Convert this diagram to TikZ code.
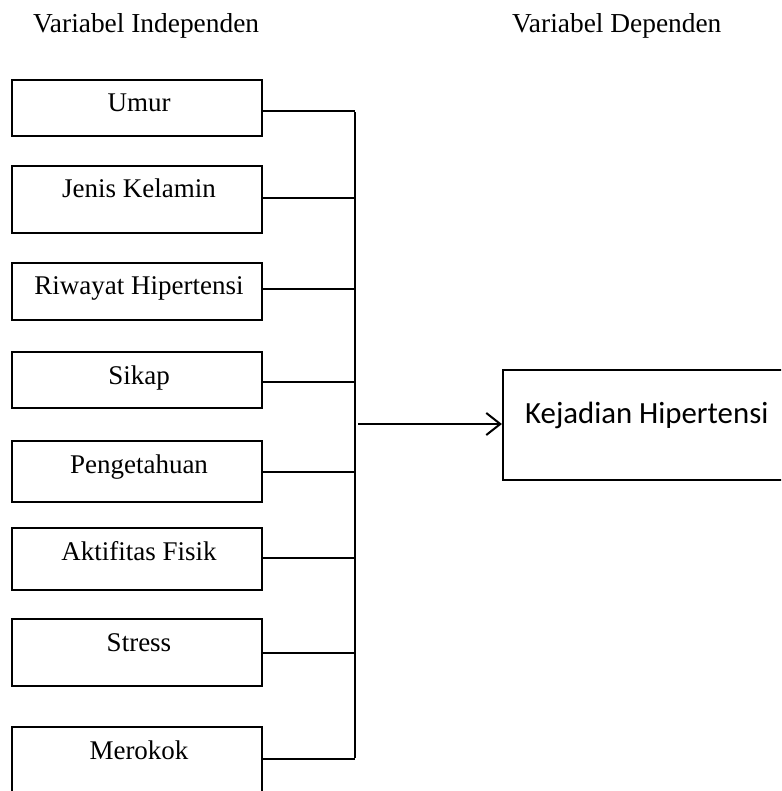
\documentclass[tikz,border=0pt]{standalone}
\usepackage{fontspec}
\setmainfont{Liberation Serif}
\newfontfamily\calib{Carlito}
\usetikzlibrary{arrows.meta}
\begin{document}
\begin{tikzpicture}[x=1pt,y=-1pt,
  varbox/.style={draw=black,line width=2.2pt,minimum width=250pt,inner sep=0pt,anchor=center},
  lbl/.style={anchor=base,inner sep=0pt,font=\fontsize{27}{31}\selectfont},
  hdr/.style={anchor=base west,inner sep=0pt,font=\fontsize{27.4}{31}\selectfont},
  conn/.style={line width=2.2pt},
  thinconn/.style={line width=1.3pt}]
\useasboundingbox (0,0) rectangle (781,791);
\clip (0,0) rectangle (781,791);
% headers
\node[hdr] (hind) at (33,33) {Variabel Independen};
\node[hdr] (hdep) at (512,33) {Variabel Dependen};
% boxes
\node[varbox,minimum height=56pt] (umur) at (137,108) {};
\node[varbox,minimum height=67pt] (jenis) at (137,199.5) {};
\node[varbox,minimum height=57pt] (riwayat) at (137,291.5) {};
\node[varbox,minimum height=56pt] (sikap) at (137,380) {};
\node[varbox,minimum height=61pt] (penget) at (137,471.5) {};
\node[varbox,minimum height=62pt] (aktif) at (137,559) {};
\node[varbox,minimum height=67pt] (stress) at (137,652.5) {};
\node[varbox,minimum height=90pt] (merokok) at (137,772) {};
% labels
\node[lbl] (tumur) at (139,112) {Umur};
\node[lbl] (tjenis) at (139,198) {Jenis Kelamin};
\node[lbl] (triwayat) at (139,294) {Riwayat Hipertensi};
\node[lbl] (tsikap) at (139,384) {Sikap};
\node[lbl] (tpenget) at (139,473) {Pengetahuan};
\node[lbl] (taktif) at (139,560) {Aktifitas Fisik};
\node[lbl] (tstress) at (139,651) {Stress};
\node[lbl] (tmerokok) at (139,759) {Merokok};
% dependent box
\node[draw=black,line width=2.2pt,minimum width=330pt,minimum height=110pt,inner sep=0pt] (kej) at (668,425) {};
\node[anchor=base west,inner sep=0pt,font=\calib\fontsize{30.8}{34}\selectfont] (tkej) at (525,423) {Kejadian Hipertensi};
% junction coordinates
\coordinate (j1) at (355,111);
\coordinate (j2) at (355,198);
\coordinate (j3) at (355,289);
\coordinate (j4) at (355,382);
\coordinate (j5) at (355,472);
\coordinate (j6) at (355,558);
\coordinate (j7) at (355,653);
\coordinate (j8) at (355,759);
\coordinate (ja) at (358,424);
% connectors
\draw[conn] (umur.east |- j1) -- (j1);
\draw[conn] (jenis.east |- j2) -- (j2);
\draw[conn] (riwayat.east |- j3) -- (j3);
\draw[conn] (sikap.east |- j4) -- (j4);
\draw[conn] (penget.east |- j5) -- (j5);
\draw[conn] (aktif.east |- j6) -- (j6);
\draw[thinconn] (stress.east |- j7) -- (j7);
\draw[thinconn] (merokok.east |- j8) -- (j8);
\draw[conn] ([yshift=-1.1pt]j1) -- ([yshift=0.6pt]j8);
\draw[conn,-{Straight Barb[length=14pt,width=22pt,line width=2pt]}] (ja) -- (kej.west |- ja);
\end{tikzpicture}
\end{document}
